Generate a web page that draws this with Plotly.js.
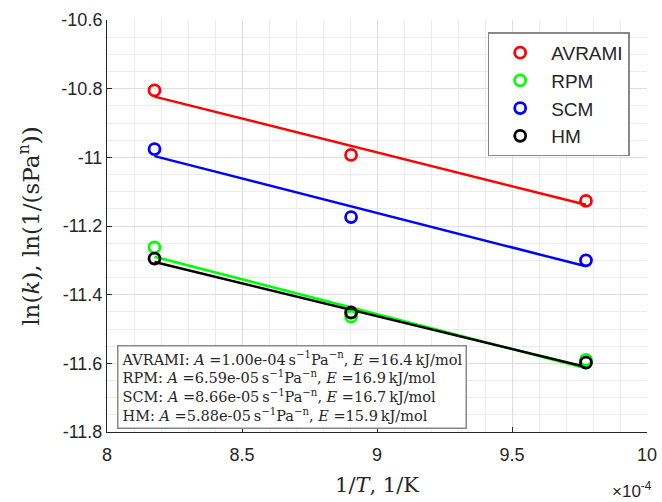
<!DOCTYPE html>
<html>
<head>
<meta charset="utf-8">
<script src="https://cdn.plot.ly/plotly-3.0.1.min.js"></script>
<style>html,body{margin:0;padding:0;background:#fff;}#chart{width:662px;height:502px;}</style>
</head>
<body>
<div id="chart"></div>
<script>
// 1/T values, in units of 1e-4 1/K
var invT = [8.176, 8.904, 9.774];
var models = ["AVRAMI", "RPM", "SCM", "HM"];
var colors = ["#ff0000", "#00ff00", "#0000ff", "#000000"];
// measured ln(k)
var lnkAVRAMI = [-10.805, -10.993, -11.127];
var lnkRPM = [-11.262, -11.464, -11.590];
var lnkSCM = [-10.976, -11.174, -11.300];
var lnkHM = [-11.295, -11.452, -11.598];
// fitted Arrhenius parameters
var paramA = [1.00e-04, 6.59e-05, 8.66e-05, 5.88e-05];
var paramAText = ["1.00e-04", "6.59e-05", "8.66e-05", "5.88e-05"];
var paramE = [16.4, 16.9, 16.7, 15.9]; // kJ/mol
var yTickVals = [-11.8, -11.6, -11.4, -11.2, -11, -10.8, -10.6];
var yTickText = ["-11.8", "-11.6", "-11.4", "-11.2", "-11", "-10.8", "-10.6"];
var xTickVals = [8, 8.5, 9, 9.5, 10];
var xTickText = ["8", "8.5", "9", "9.5", "10"];

var lnk = [lnkAVRAMI, lnkRPM, lnkSCM, lnkHM];
var R = 8.314;
var traces = [];
// fit lines
for (var i = 0; i < models.length; i++) {
  var xs = [invT[0], invT[invT.length - 1]];
  var ys = xs.map(function (x) { return Math.log(paramA[i]) - paramE[i] * 1000 / R * x * 1e-4; });
  traces.push({x: xs, y: ys, mode: "lines", line: {color: colors[i], width: 2.5}, showlegend: false, hoverinfo: "skip"});
}
// data markers
for (var i = 0; i < models.length; i++) {
  traces.push({x: invT, y: lnk[i], mode: "markers", name: models[i], legendgroup: models[i],
    marker: {symbol: "circle-open", size: 11, color: colors[i], line: {width: 2.8, color: colors[i]}}});
}

var serif = "DejaVu Serif, Liberation Serif, serif";
var lines = models.map(function (m, i) {
  return m + ": <i>A</i> =" + paramAText[i] + "\u2009s<sup>\u22121</sup>Pa<sup>\u2212n</sup>, <i>E</i> =" + paramE[i].toFixed(1) + "\u2009kJ/mol";
});

var layout = {
  width: 662, height: 502,
  margin: {l: 107, r: 15, t: 20, b: 70},
  paper_bgcolor: "#fff", plot_bgcolor: "#fff",
  font: {family: "Liberation Sans, Arial, sans-serif", size: 18, color: "#262626"},
  xaxis: {range: [8, 10], tickvals: xTickVals, ticktext: xTickText, ticks: "inside", ticklen: 5, tickcolor: "#262626",
    showline: true, linecolor: "#262626", linewidth: 1, zeroline: false, mirror: false,
    showgrid: true, gridcolor: "#dedede", gridwidth: 1, ticklabelstandoff: 6,
    minor: {dtick: 0.1, showgrid: true, gridcolor: "#ececec", gridwidth: 1, ticks: ""},
    tickfont: {size: 18, color: "#262626"},
    title: {text: "1/<i>T</i>, 1/K", font: {family: serif, size: 21, color: "#262626"}, standoff: 13}},
  yaxis: {range: [-11.8, -10.6], tickvals: yTickVals, ticktext: yTickText, ticks: "inside", ticklen: 5, tickcolor: "#262626",
    showline: true, linecolor: "#262626", linewidth: 1, zeroline: false, mirror: false,
    showgrid: true, gridcolor: "#dedede", gridwidth: 1,
    minor: {dtick: 0.05, showgrid: true, gridcolor: "#ececec", gridwidth: 1, ticks: ""},
    tickfont: {size: 18, color: "#262626"},
    title: {text: "ln(<i>k</i>), ln(1/(sPa<sup>n</sup>))", font: {family: serif, size: 23, color: "#262626"}, standoff: 15}},
  legend: {x: 0.705, y: 0.97, xanchor: "left", yanchor: "top", bgcolor: "#fff", bordercolor: "#888", borderwidth: 1.5,
    font: {size: 19, color: "#262626"}, tracegroupgap: 0, itemwidth: 52},
  annotations: [
    {xref: "paper", yref: "paper", x: 0.018, y: 0.21, xanchor: "left", yanchor: "top", align: "left",
     text: lines.join("<br>"), showarrow: false, bgcolor: "#fff", bordercolor: "#888", borderwidth: 1.5, borderpad: 3,
     font: {family: serif, size: 14.5, color: "#262626"}},
    {xref: "paper", yref: "paper", x: 0.972, y: -0.14, xanchor: "center", yanchor: "middle", showarrow: false,
     text: "\u00d710<sup>-4</sup>", font: {size: 17, color: "#262626"}}
  ]
};
Plotly.newPlot("chart", traces, layout, {displayModeBar: false, staticPlot: true});
</script>
</body>
</html>
